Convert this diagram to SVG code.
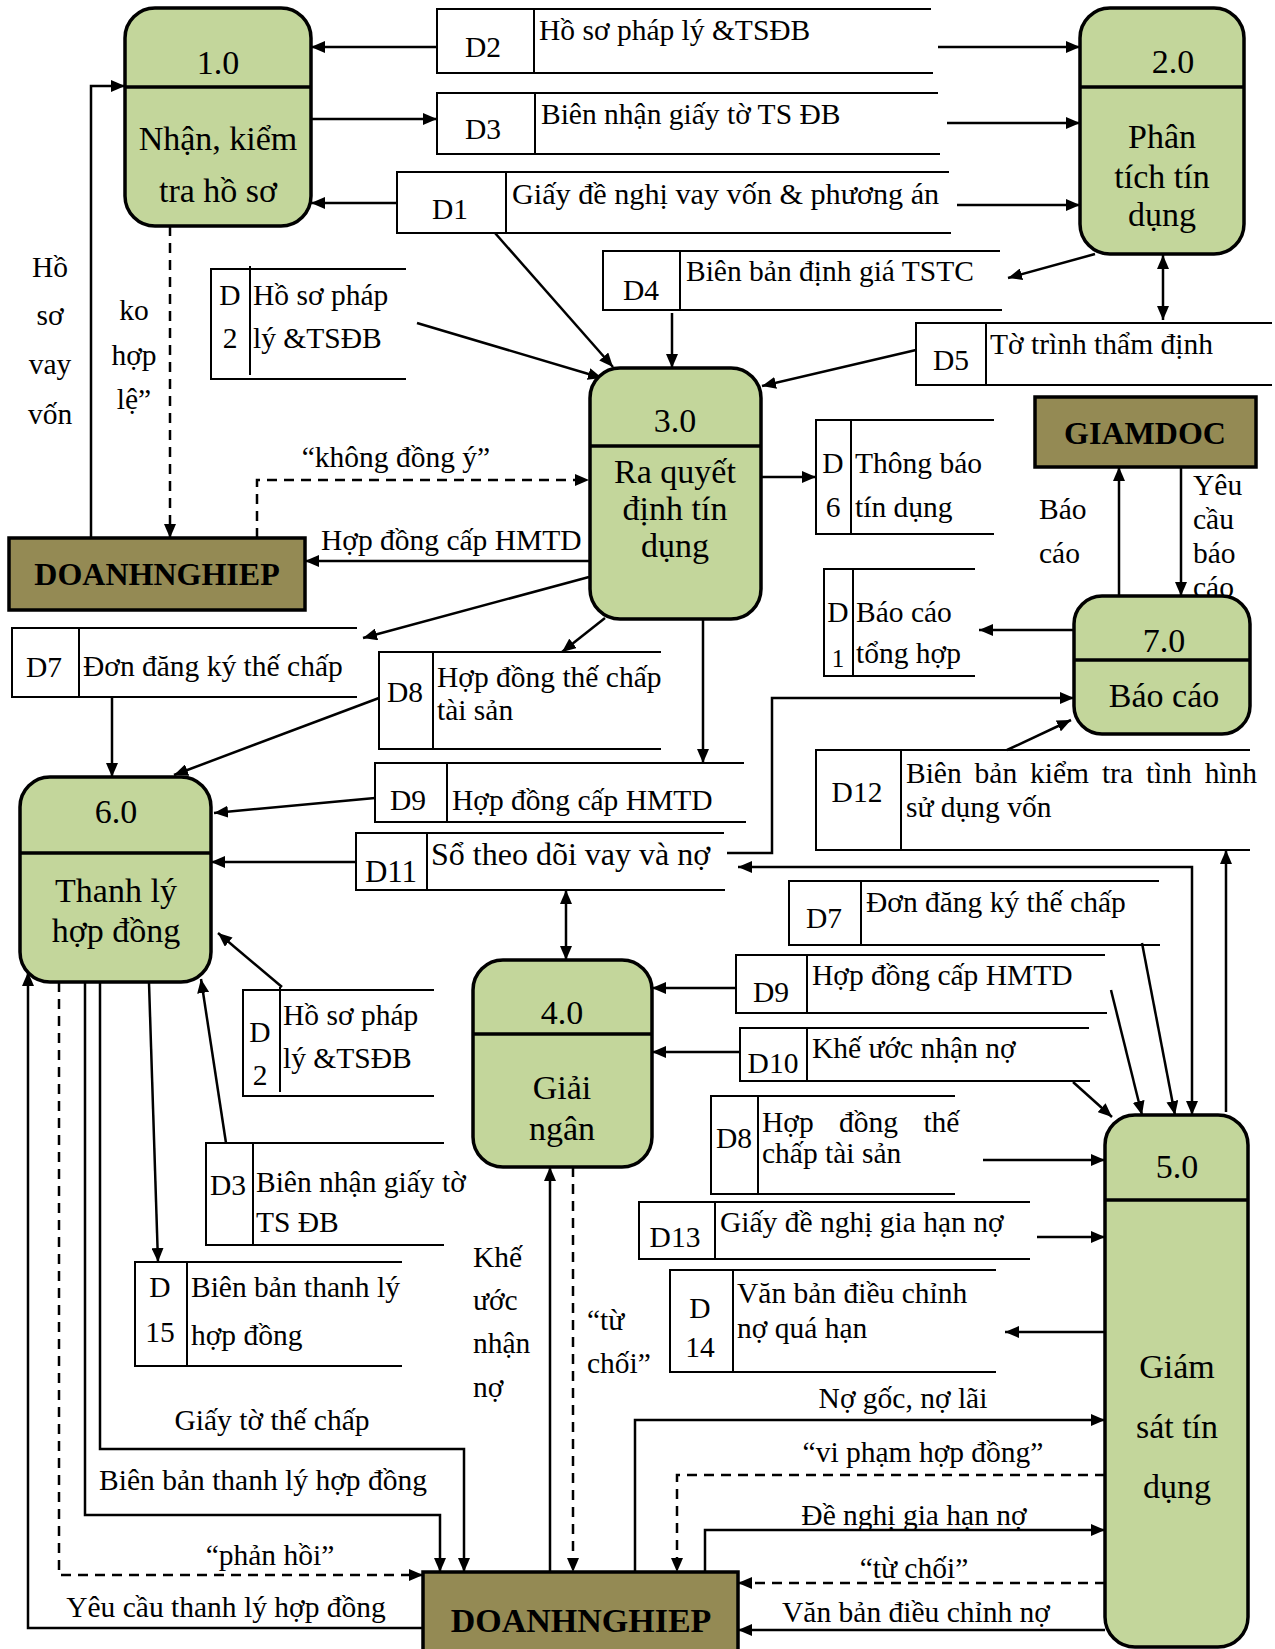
<svg xmlns="http://www.w3.org/2000/svg" width="1275" height="1649" viewBox="0 0 1275 1649">
<style>
text{font-family:"Liberation Serif","Times New Roman",serif;fill:#000}
.pt{font-size:34px;text-anchor:middle}
.s{font-size:29.5px}
.sc{font-size:29.5px;text-anchor:middle}
.l{font-size:29.5px}
.lc{font-size:29.5px;text-anchor:middle}
.e{font-size:32px;font-weight:bold;text-anchor:middle}
.proc{fill:#C3D69B;stroke:#000;stroke-width:3.5}
.ext{fill:#948A54;stroke:#000;stroke-width:3.5}
.div{stroke:#000;stroke-width:3.5}
.st{fill:none;stroke:#000;stroke-width:2}
.f{fill:none;stroke:#000;stroke-width:2.5;marker-end:url(#a)}
.b{marker-start:url(#a)}
.d{stroke-dasharray:10 7}
</style>
<defs>
<marker id="a" viewBox="0 0 14 12" refX="14" refY="6" markerWidth="14" markerHeight="12" markerUnits="userSpaceOnUse" orient="auto-start-reverse"><path d="M0,0L14,6L0,12z" fill="#000"/></marker>
</defs>

<g id="labels">
<text class="lc" x="396" y="467">“không đồng ý”</text>
<text class="l" x="321" y="550">Hợp đồng cấp HMTD</text>
<text class="lc" x="50" y="277">Hồ</text>
<text class="lc" x="50" y="325">sơ</text>
<text class="lc" x="50" y="374">vay</text>
<text class="lc" x="50" y="424">vốn</text>
<text class="lc" x="134" y="320">ko</text>
<text class="lc" x="134" y="365">hợp</text>
<text class="lc" x="134" y="409">lệ”</text>
<text class="l" x="1039" y="519">Báo</text>
<text class="l" x="1039" y="563">cáo</text>
<text class="l" x="1193" y="495">Yêu</text>
<text class="l" x="1193" y="529">cầu</text>
<text class="l" x="1193" y="563">báo</text>
<text class="l" x="1193" y="597">cáo</text>
<text class="lc" x="272" y="1430">Giấy tờ thế chấp</text>
<text class="lc" x="263" y="1490">Biên bản thanh lý hợp đồng</text>
<text class="lc" x="270" y="1565">“phản hồi”</text>
<text class="lc" x="226" y="1617">Yêu cầu thanh lý hợp đồng</text>
<text class="l" x="473" y="1267">Khế</text>
<text class="l" x="473" y="1310">ước</text>
<text class="l" x="473" y="1353">nhận</text>
<text class="l" x="473" y="1397">nợ</text>
<text class="l" x="587" y="1330">“từ</text>
<text class="l" x="587" y="1373">chối”</text>
<text class="lc" x="903" y="1408">Nợ gốc, nợ lãi</text>
<text class="lc" x="923" y="1462">“vi phạm hợp đồng”</text>
<text class="lc" x="914" y="1525">Đề nghị gia hạn nợ</text>
<text class="lc" x="914" y="1578">“từ chối”</text>
<text class="lc" x="916" y="1622">Văn bản điều chỉnh nợ</text>
</g>

<g id="connectors">
<path class="f" d="M437,47H311"/>
<path class="f" d="M938,47H1080"/>
<path class="f" d="M311,119H437"/>
<path class="f" d="M947,123H1080"/>
<path class="f" d="M397,203H311"/>
<path class="f" d="M957,205H1080"/>
<path class="f" d="M495,233L613,367"/>
<path class="f" d="M417,323L602,378"/>
<path class="f" d="M1095,254L1008,278"/>
<path class="f" d="M672,313V368"/>
<path class="f b" d="M1163,255V320"/>
<path class="f" d="M916,350L762,386"/>
<path class="f" d="M761,477H816"/>
<path class="f" d="M589,561H305"/>
<path class="f d" d="M257,538V480H589"/>
<path class="f" d="M91,538V86H125"/>
<path class="f d" d="M170,226V538"/>
<path class="f" d="M589,577L363,638"/>
<path class="f" d="M605,618L562,652"/>
<path class="f" d="M703,619V763"/>
<path class="f" d="M112,697V777"/>
<path class="f" d="M379,698L174,775"/>
<path class="f" d="M375,798L214,813"/>
<path class="f" d="M356,862H211"/>
<path class="f b" d="M566,890V960"/>
<path class="f" d="M727,853H772V698H1074"/>
<path class="f b" d="M1192,1115V867H738"/>
<path class="f" d="M1007,750L1071,720"/>
<path class="f" d="M1226,1112V850"/>
<path class="f" d="M1119,596V467"/>
<path class="f" d="M1181,467V596"/>
<path class="f" d="M1074,630H979"/>
<path class="f" d="M1142,943L1175,1115"/>
<path class="f" d="M1111,990L1142,1115"/>
<path class="f" d="M1073,1082L1112,1117"/>
<path class="f" d="M983,1160H1105"/>
<path class="f" d="M1037,1237H1105"/>
<path class="f" d="M1105,1332H1005"/>
<path class="f" d="M736,988H652"/>
<path class="f" d="M740,1052H652"/>
<path class="f" d="M282,987L218,933"/>
<path class="f" d="M226,1143L201,979"/>
<path class="f" d="M149,983L158,1262"/>
<path class="f" d="M423,1628H28V972"/>
<path class="f d" d="M59,982V1575H423"/>
<path class="f" d="M85,982V1515H440V1572"/>
<path class="f" d="M100,982V1449H464V1572"/>
<path class="f" d="M550,1572V1167"/>
<path class="f d" d="M573,1167V1572"/>
<path class="f" d="M635,1572V1420H1105"/>
<path class="f d" d="M1105,1475H677V1572"/>
<path class="f" d="M705,1572V1530H1105"/>
<path class="f d" d="M1105,1583H738"/>
<path class="f" d="M1105,1630H738"/>
</g>

<g id="p1">
<rect class="proc" x="125" y="8" width="186" height="218" rx="30"/>
<line class="div" x1="125" y1="87" x2="311" y2="87"/>
<text class="pt" x="218" y="74">1.0</text>
<text class="pt" x="218" y="150">Nhận, kiểm</text>
<text class="pt" x="218" y="202">tra hồ sơ</text>
</g>
<g id="p2">
<rect class="proc" x="1080" y="8" width="164" height="246" rx="30"/>
<line class="div" x1="1080" y1="87" x2="1244" y2="87"/>
<text class="pt" x="1173" y="73">2.0</text>
<text class="pt" x="1162" y="148">Phân</text>
<text class="pt" x="1162" y="188">tích tín</text>
<text class="pt" x="1162" y="226">dụng</text>
</g>
<g id="p3">
<rect class="proc" x="590" y="368" width="171" height="251" rx="30"/>
<line class="div" x1="590" y1="446" x2="761" y2="446"/>
<text class="pt" x="675" y="432">3.0</text>
<text class="pt" x="675" y="483">Ra quyết</text>
<text class="pt" x="675" y="520">định tín</text>
<text class="pt" x="675" y="557">dụng</text>
</g>
<g id="p4">
<rect class="proc" x="473" y="960" width="179" height="207" rx="30"/>
<line class="div" x1="473" y1="1034" x2="652" y2="1034"/>
<text class="pt" x="562" y="1024">4.0</text>
<text class="pt" x="562" y="1099">Giải</text>
<text class="pt" x="562" y="1140">ngân</text>
</g>
<g id="p5">
<rect class="proc" x="1105" y="1115" width="143" height="532" rx="30"/>
<line class="div" x1="1105" y1="1200" x2="1248" y2="1200"/>
<text class="pt" x="1177" y="1178">5.0</text>
<text class="pt" x="1177" y="1378">Giám</text>
<text class="pt" x="1177" y="1438">sát tín</text>
<text class="pt" x="1177" y="1498">dụng</text>
</g>
<g id="p6">
<rect class="proc" x="20" y="777" width="191" height="205" rx="30"/>
<line class="div" x1="20" y1="853" x2="211" y2="853"/>
<text class="pt" x="116" y="823">6.0</text>
<text class="pt" x="116" y="902">Thanh lý</text>
<text class="pt" x="116" y="942">hợp đồng</text>
</g>
<g id="p7">
<rect class="proc" x="1074" y="596" width="176" height="138" rx="28"/>
<line class="div" x1="1074" y1="660" x2="1250" y2="660"/>
<text class="pt" x="1164" y="652">7.0</text>
<text class="pt" x="1164" y="707">Báo cáo</text>
</g>

<g id="dn1">
<rect class="ext" x="9" y="538" width="296" height="72"/>
<text class="e" x="157" y="585">DOANHNGHIEP</text>
</g>
<g id="dn2">
<rect class="ext" x="423" y="1572" width="315" height="90"/>
<text class="e" x="581" y="1632" style="font-size:34px">DOANHNGHIEP</text>
</g>
<g id="gd">
<rect class="ext" x="1035" y="397" width="221" height="70"/>
<text class="e" x="1145" y="444">GIAMDOC</text>
</g>

<g id="sD2a">
<path class="st" d="M931,9H437V73H933M534,9V73"/>
<text class="sc" x="483" y="57">D2</text>
<text class="s" x="539" y="40">Hồ sơ pháp lý &amp;TSĐB</text>
</g>
<g id="sD3a">
<path class="st" d="M938,93H437V154H940M535,93V154"/>
<text class="sc" x="483" y="139">D3</text>
<text class="s" x="541" y="124">Biên nhận giấy tờ TS ĐB</text>
</g>
<g id="sD1a">
<path class="st" d="M949,172H397V233H951M506,172V233"/>
<text class="sc" x="450" y="219">D1</text>
<text class="s" x="512" y="204" style="font-size:30.2px">Giấy đề nghị vay vốn &amp; phương án</text>
</g>
<g id="sD2b">
<path class="st" d="M406,269H211V379H406M250,266V375"/>
<text class="sc" x="230" y="305">D</text>
<text class="sc" x="230" y="348">2</text>
<text class="s" x="253" y="305">Hồ sơ pháp</text>
<text class="s" x="253" y="348">lý &amp;TSĐB</text>
</g>
<g id="sD4">
<path class="st" d="M1000,251H603V310H1002M680,251V310"/>
<text class="sc" x="641" y="300">D4</text>
<text class="s" x="686" y="281">Biên bản định giá TSTC</text>
</g>
<g id="sD5">
<path class="st" d="M1272,323H916V385H1272M986,323V385"/>
<text class="sc" x="951" y="370">D5</text>
<text class="s" x="990" y="354">Tờ trình thẩm định</text>
</g>
<g id="sD6">
<path class="st" d="M994,420H816V534H994M851,420V534"/>
<text class="sc" x="833" y="473">D</text>
<text class="sc" x="833" y="517">6</text>
<text class="s" x="855" y="473">Thông báo</text>
<text class="s" x="855" y="517">tín dụng</text>
</g>
<g id="sD1b">
<path class="st" d="M975,569H824V676H975M853,569V676"/>
<text class="sc" x="838" y="622">D</text>
<text class="sc" x="838" y="667" style="font-size:25px">1</text>
<text class="s" x="856" y="622">Báo cáo</text>
<text class="s" x="856" y="663">tổng hợp</text>
</g>
<g id="sD12">
<path class="st" d="M1250,750H816V850H1250M901,750V850"/>
<text class="sc" x="857" y="802">D12</text>
<text class="s" x="906" y="783" style="word-spacing:5.5px">Biên bản kiểm tra tình hình</text>
<text class="s" x="906" y="817">sử dụng vốn</text>
</g>
<g id="sD7a">
<path class="st" d="M357,628H12V697H357M79,628V697"/>
<text class="sc" x="44" y="677">D7</text>
<text class="s" x="83" y="676">Đơn đăng ký thế chấp</text>
</g>
<g id="sD8a">
<path class="st" d="M661,652H379V749H661M433,652V749"/>
<text class="sc" x="405" y="702">D8</text>
<text class="s" x="437" y="687">Hợp đồng thế chấp</text>
<text class="s" x="437" y="720">tài sản</text>
</g>
<g id="sD9a">
<path class="st" d="M744,763H375V822H746M447,763V822"/>
<text class="sc" x="408" y="810">D9</text>
<text class="s" x="452" y="810">Hợp đồng cấp HMTD</text>
</g>
<g id="sD11">
<path class="st" d="M724,833H356V890H725M427,833V890"/>
<text class="sc" x="391" y="882" style="font-size:31px">D11</text>
<text class="s" x="431" y="865" style="font-size:32px">Sổ theo dõi vay và nợ</text>
</g>
<g id="sD7b">
<path class="st" d="M1159,881H789V945H1160M861,881V945"/>
<text class="sc" x="824" y="928">D7</text>
<text class="s" x="866" y="912">Đơn đăng ký thế chấp</text>
</g>
<g id="sD9b">
<path class="st" d="M1105,955H736V1013H1107M807,955V1013"/>
<text class="sc" x="771" y="1002">D9</text>
<text class="s" x="812" y="985">Hợp đồng cấp HMTD</text>
</g>
<g id="sD10">
<path class="st" d="M1089,1028H740V1081H1090M807,1028V1081"/>
<text class="sc" x="773" y="1073">D10</text>
<text class="s" x="812" y="1058">Khế ước nhận nợ</text>
</g>
<g id="sD8b">
<path class="st" d="M955,1096H711V1194H955M758,1096V1194"/>
<text class="sc" x="734" y="1148">D8</text>
<text class="s" x="762" y="1132" style="word-spacing:18px">Hợp đồng thế</text>
<text class="s" x="762" y="1163">chấp tài sản</text>
</g>
<g id="sD13">
<path class="st" d="M1030,1202H639V1259H1030M715,1202V1259"/>
<text class="sc" x="675" y="1247">D13</text>
<text class="s" x="720" y="1232">Giấy đề nghị gia hạn nợ</text>
</g>
<g id="sD14">
<path class="st" d="M996,1270H670V1372H996M733,1270V1372"/>
<text class="sc" x="700" y="1318">D</text>
<text class="sc" x="700" y="1357">14</text>
<text class="s" x="737" y="1303">Văn bản điều chỉnh</text>
<text class="s" x="737" y="1338">nợ quá hạn</text>
</g>
<g id="sD2c">
<path class="st" d="M434,990H243V1096H434M280,987V1092"/>
<text class="sc" x="260" y="1042">D</text>
<text class="sc" x="260" y="1085">2</text>
<text class="s" x="283" y="1025">Hồ sơ pháp</text>
<text class="s" x="283" y="1068">lý &amp;TSĐB</text>
</g>
<g id="sD3b">
<path class="st" d="M444,1143H206V1245H444M253,1143V1245"/>
<text class="sc" x="228" y="1195">D3</text>
<text class="s" x="256" y="1192">Biên nhận giấy tờ</text>
<text class="s" x="256" y="1232">TS ĐB</text>
</g>
<g id="sD15">
<path class="st" d="M402,1262H135V1366H402M187,1262V1366"/>
<text class="sc" x="160" y="1297">D</text>
<text class="sc" x="160" y="1342">15</text>
<text class="s" x="191" y="1297">Biên bản thanh lý</text>
<text class="s" x="191" y="1345">hợp đồng</text>
</g>
</svg>
